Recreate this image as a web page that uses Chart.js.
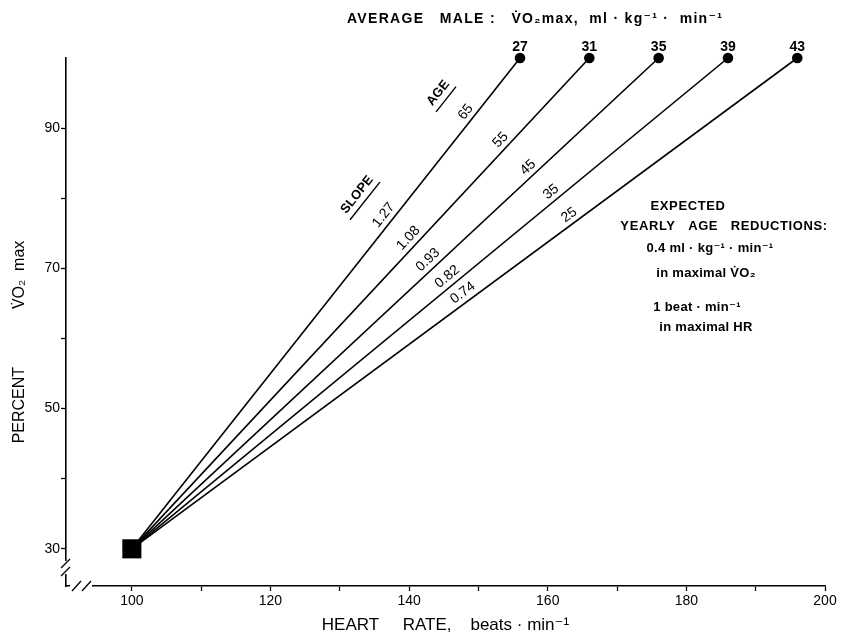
<!DOCTYPE html>
<html lang="en">
<head>
  <meta charset="UTF-8" />
  <title>Percent VO2max vs heart rate</title>
  <script src="https://cdn.jsdelivr.net/npm/chart.js"></script>
  <style>
    html, body { margin: 0; padding: 0; background: #fff; }
    #wrap { width: 846px; height: 638px; }
  </style>
</head>
<body>
  <div id="wrap"><canvas id="chart" width="846" height="638"></canvas></div>

  <script>
    // data
    const ages = [65, 55, 45, 35, 25];
    const slopes = ["1.27", "1.08", "0.93", "0.82", "0.74"];
    const vo2Max = [27, 31, 35, 39, 43];
    const startHR = 100;
    const startPct = 30;
    const maxHR = [156, 166, 176, 186, 196];
    const maxPct = 100;

    const xTicks = [100, 110, 120, 130, 140, 150, 160, 170, 180, 190, 200];
    const xTickLabels = [100, 120, 140, 160, 180, 200];
    const yTicks = [30, 40, 50, 60, 70, 80, 90];
    const yTickLabels = [30, 50, 70, 90];

    const FONT = "'Liberation Sans', 'DejaVu Sans', sans-serif";
    Chart.defaults.font.family = FONT;
    Chart.defaults.color = "#000";

    const datasets = ages.map((age, i) => ({
      label: "age " + age,
      data: [{ x: startHR, y: startPct }, { x: maxHR[i], y: maxPct }],
      borderColor: "#000",
      backgroundColor: "#000",
      borderWidth: 1.6,
      pointRadius: [0, 4.5],
      pointHoverRadius: [0, 4.5],
      showLine: true,
      clip: false
    }));
    datasets.push({
      label: "start",
      data: [{ x: startHR, y: startPct }],
      pointStyle: "rect",
      pointRadius: 13.5,
      backgroundColor: "#000",
      borderColor: "#000",
      borderWidth: 0,
      clip: false
    });

    const annotate = {
      id: "annotate",
      afterDraw(chart) {
        const { ctx, chartArea: ca } = chart;
        const x = chart.scales.x, y = chart.scales.y;
        const x0 = x.getPixelForValue(startHR), y0 = y.getPixelForValue(startPct);

        // axis breaks
        ctx.save();
        ctx.fillStyle = "#fff";
        ctx.fillRect(ca.left - 3, 561, 6, 13);
        ctx.fillRect(70, ca.bottom - 3, 22, 6);
        ctx.strokeStyle = "#000";
        ctx.lineWidth = 1.3;
        ctx.beginPath();
        [[ca.left, 564], [ca.left, 572]].forEach(([px, py]) => {
          ctx.moveTo(px - 5, py + 4); ctx.lineTo(px + 4, py - 5);
        });
        [[77, ca.bottom], [87, ca.bottom]].forEach(([px, py]) => {
          ctx.moveTo(px - 5, py + 5); ctx.lineTo(px + 4, py - 5);
        });
        ctx.stroke();
        ctx.restore();

        // line geometry helper
        function geom(i) {
          const x1 = x.getPixelForValue(maxHR[i]), y1 = y.getPixelForValue(maxPct);
          return { x1, y1, ang: Math.atan2(y1 - y0, x1 - x0) };
        }
        function alongLine(i, yVal, text, perp) {
          const g = geom(i);
          const py = y.getPixelForValue(yVal);
          const px = x0 + (py - y0) * (g.x1 - x0) / (g.y1 - y0);
          const off = perp / Math.sin(-g.ang);
          ctx.save();
          ctx.translate(px - off, py);
          ctx.rotate(g.ang);
          ctx.fillText(text, 0, 0);
          ctx.restore();
        }

        ctx.save();
        ctx.fillStyle = "#000";
        ctx.textAlign = "center";
        ctx.textBaseline = "middle";

        // vo2max numbers above end dots
        ctx.font = "bold 14px " + FONT;
        vo2Max.forEach((v, i) => {
          ctx.fillText(String(v), x.getPixelForValue(maxHR[i]), y.getPixelForValue(maxPct) - 11);
        });

        // age and slope labels along lines
        ctx.font = "14px " + FONT;
        const ageAt = [92.3, 88.3, 84.4, 80.9, 77.6];
        const slopeAt = [77.6, 74.3, 71.2, 68.8, 66.5];
        ages.forEach((a, i) => alongLine(i, ageAt[i], String(a), 9));
        slopes.forEach((s, i) => alongLine(i, slopeAt[i], s, 9.5));

        // SLOPE / AGE headers, underlined
        const ang = geom(0).ang;
        [["SLOPE", 132.5, 80.5], ["AGE", 144.2, 95.0]].forEach(([t, hx, hy]) => {
          ctx.save();
          ctx.translate(x.getPixelForValue(hx), y.getPixelForValue(hy));
          ctx.rotate(ang);
          ctx.font = "bold 13px " + FONT;
          ctx.fillText(t, 0, 0);
          const w = ctx.measureText(t).width;
          ctx.lineWidth = 1.4;
          ctx.beginPath();
          ctx.moveTo(-w / 2 - 2, 10);
          ctx.lineTo(w / 2 + 2, 10);
          ctx.stroke();
          ctx.restore();
        });

        // top heading
        ctx.textAlign = "left";
        ctx.font = "bold 14px " + FONT;
        ctx.letterSpacing = "1.3px";
        ctx.fillText("AVERAGE   MALE :   V\u0307O\u2082max,  ml \u00b7 kg\u207b\u00b9 \u00b7  min\u207b\u00b9", 347, 19);

        // right-hand note
        ctx.textAlign = "center";
        ctx.font = "bold 13px " + FONT;
        ctx.letterSpacing = "0.6px";
        ctx.fillText("EXPECTED", 688, 206);
        ctx.fillText("YEARLY   AGE   REDUCTIONS:", 724, 226);
        ctx.letterSpacing = "0.3px";
        ctx.fillText("0.4 ml \u00b7 kg\u207b\u00b9 \u00b7 min\u207b\u00b9", 710, 248);
        ctx.fillText("in maximal V\u0307O\u2082", 706, 273);
        ctx.fillText("1 beat \u00b7 min\u207b\u00b9", 697, 307);
        ctx.fillText("in maximal HR", 706, 327);
        ctx.letterSpacing = "0px";
        ctx.restore();
      }
    };

    new Chart(document.getElementById("chart"), {
      type: "scatter",
      data: { datasets },
      options: {
        responsive: false,
        animation: false,
        layout: { padding: { top: 58, right: 21, left: 0, bottom: 0 } },
        plugins: {
          legend: { display: false },
          tooltip: { enabled: false }
        },
        scales: {
          x: {
            type: "linear",
            min: 90.5,
            max: 200,
            afterFit: (s) => { s.height = 52; },
            afterBuildTicks: (s) => { s.ticks = xTicks.map(v => ({ value: v })); },
            border: { display: true, color: "#000", width: 1.6 },
            grid: { display: true, drawOnChartArea: false, color: "#000", tickLength: 5, tickWidth: 1.3 },
            ticks: {
              font: { size: 14 },
              padding: 2,
              maxRotation: 0,
              autoSkip: false,
              callback: (v) => xTickLabels.includes(v) ? String(v) : ""
            },
            title: {
              display: true,
              text: "HEART     RATE,    beats \u00b7 min\u207b\u00b9",
              font: { size: 17 },
              padding: { top: 0, bottom: 2 }
            }
          },
          y: {
            type: "linear",
            min: 24.7,
            max: 100,
            afterFit: (s) => { s.width = 66; },
            afterBuildTicks: (s) => { s.ticks = yTicks.map(v => ({ value: v })); },
            border: { display: true, color: "#000", width: 1.6 },
            grid: { display: true, drawOnChartArea: false, color: "#000", tickLength: 5, tickWidth: 1.3 },
            ticks: {
              font: { size: 14 },
              padding: 1,
              autoSkip: false,
              callback: (v) => yTickLabels.includes(v) ? String(v) : ""
            },
            title: {
              display: true,
              text: "PERCENT             V\u0307O\u2082  max         ",
              font: { size: 16 },
              padding: { top: 10, bottom: 0 }
            }
          }
        }
      },
      plugins: [annotate]
    });
  </script>
</body>
</html>
